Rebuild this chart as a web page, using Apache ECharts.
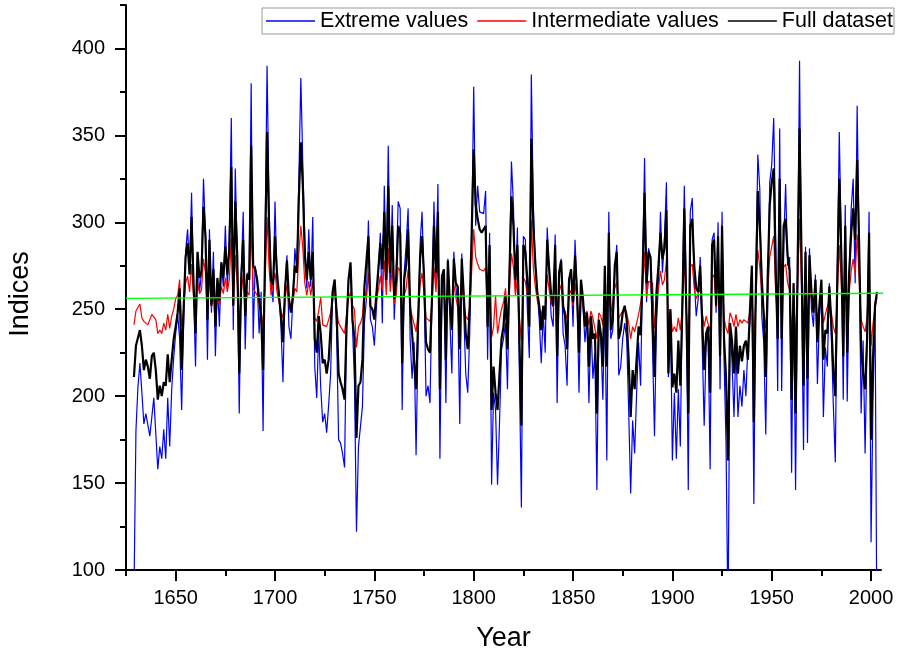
<!DOCTYPE html>
<html>
<head>
<meta charset="utf-8">
<style>
  html, body { margin: 0; padding: 0; background: #fff; }
  #chart { width: 901px; height: 656px; }
</style>
<script src="https://cdn.jsdelivr.net/npm/echarts@6.0.0/dist/echarts.min.js"></script>
</head>
<body>
<div id="chart"></div>
<script>
const startYear = 1629;

const extremeValues = [
  85,180,205,219,202,184,190,190,177,188,
  199,199,158,171,164,181,164,199,171,204,
  222,236,247,233,192,242,283,296,271,317,
  260,217,282,260,271,325,294,221,296,248,
  283,223,267,240,277,263,298,263,290,360,
  238,331,281,190,271,306,227,271,267,380,
  233,275,267,236,260,180,290,390,310,265,
  254,312,265,260,240,208,260,281,240,233,
  256,285,271,325,383,333,290,262,296,263,
  303,217,199,238,205,185,190,179,195,213,
  260,267,238,175,173,167,159,240,267,275,
  240,208,122,171,172,194,242,256,301,244,
  240,229,229,271,294,242,321,265,344,265,
  310,244,271,312,308,192,271,287,308,233,
  210,231,166,233,287,306,267,200,206,196,
  256,312,265,322,164,260,271,196,279,244,
  213,283,263,252,184,282,248,213,202,236,
  290,378,298,321,306,306,305,318,221,294,
  149,202,192,149,185,227,233,242,204,273,
  335,310,260,297,213,136,292,290,250,222,
  385,310,275,260,244,219,248,225,297,271,
  246,240,293,196,271,279,236,229,206,267,
  273,240,290,260,202,262,252,231,246,196,
  242,210,225,146,242,233,198,256,163,306,
  233,238,271,287,212,217,233,242,233,192,
  144,186,167,202,231,206,271,337,254,285,
  280,281,177,242,265,306,271,290,323,211,
  250,163,202,164,204,171,256,321,256,146,
  306,314,267,246,256,280,230,183,230,236,
  158,290,294,248,300,204,306,221,173,70,
  240,220,188,230,188,206,194,215,200,229,
  242,275,138,270,339,319,246,231,178,256,
  323,333,360,290,203,354,203,287,322,275,
  280,156,265,146,263,393,260,169,286,173,
  285,250,240,270,207,245,260,188,228,217,
  265,235,195,162,268,352,290,198,310,197,
  270,308,325,265,367,280,190,232,167,232,
  306,116,200,254,50
];

const intermediateValues = [
  241,249,249,253,245,243,244,241,241,247,
  246,244,236,238,236,242,238,247,239,246,
  250,256,258,267,240,250,265,269,260,276,
  257,246,266,259,261,279,271,248,270,251,
  261,247,259,252,263,259,268,260,267,291,
  251,281,265,240,259,270,249,260,258,297,
  262,261,258,253,249,240,265,303,274,258,
  257,271,260,254,249,245,255,264,253,249,
  254,262,260,282,298,285,265,258,266,258,
  266,245,243,249,257,241,242,240,244,248,
  255,262,250,242,240,238,236,247,256,260,
  252,250,228,240,242,246,262,256,271,251,
  250,248,248,261,269,261,278,258,285,260,
  274,253,258,274,272,241,258,262,273,251,
  246,246,237,248,264,271,259,245,244,243,
  253,274,260,278,237,259,261,242,264,252,
  247,264,257,256,244,264,254,246,244,251,
  272,296,280,276,273,272,272,274,247,268,
  234,240,258,236,244,250,254,262,246,262,
  282,274,258,268,245,232,268,266,258,247,
  301,274,263,255,251,247,251,248,270,261,
  254,251,268,242,260,264,251,249,244,258,
  261,252,265,255,243,258,253,247,249,241,
  249,245,246,233,248,246,241,262,241,272,
  247,248,262,266,245,247,249,251,248,242,
  233,240,237,242,247,246,260,283,257,266,
  265,265,239,255,262,272,264,267,278,240,
  250,237,240,237,245,238,250,279,250,233,
  274,276,262,256,255,262,248,240,246,247,
  237,268,270,251,271,242,274,245,239,236,
  248,245,240,247,240,244,242,244,245,242,
  249,262,232,255,284,274,258,249,239,260,
  280,286,292,260,245,287,245,274,276,265,
  261,236,257,233,261,302,265,238,266,239,
  265,255,249,258,245,251,258,242,247,246,
  256,248,240,236,258,287,266,242,274,243,
  260,272,279,270,293,268,244,240,237,245,
  272,229,242,251,257
];

const fullDataset = [
  211,229,229,238,229,215,221,217,210,223,
  225,215,198,206,200,208,206,224,208,221,
  233,240,248,262,215,250,280,288,270,303,
  265,236,283,268,272,309,292,244,290,252,
  273,240,268,255,277,268,286,270,285,332,
  252,312,280,213,268,290,246,270,267,344,
  275,273,267,256,246,215,281,352,298,267,
  264,292,271,258,246,231,260,278,256,248,
  258,275,271,314,346,321,281,267,283,267,
  283,233,225,246,236,219,221,213,221,240,
  260,267,248,213,208,204,198,240,267,277,
  244,233,176,206,208,221,263,262,292,252,
  250,244,244,273,288,273,306,267,321,271,
  298,256,267,298,294,219,267,275,296,252,
  236,235,204,242,279,292,269,231,227,225,
  256,298,271,306,204,269,273,221,278,254,
  238,279,265,263,227,279,258,236,227,252,
  294,342,310,302,296,294,294,298,240,287,
  192,217,202,192,213,233,240,258,227,271,
  315,298,267,287,233,183,287,283,267,240,
  348,298,277,260,252,238,252,244,290,273,
  258,252,287,223,271,278,252,246,227,267,
  273,254,281,260,225,267,256,240,248,217,
  246,233,236,190,244,236,217,275,217,294,
  238,244,275,283,233,238,248,252,244,221,
  188,215,204,221,240,235,270,317,265,283,
  280,281,211,260,275,294,279,285,307,213,
  250,205,213,202,232,206,250,308,250,190,
  298,302,275,262,260,275,244,215,236,240,
  202,287,290,252,292,223,298,233,211,163,
  242,232,213,240,213,229,220,229,232,221,
  248,275,185,260,318,298,267,246,211,270,
  310,323,331,271,233,325,233,298,302,281,
  272,198,265,190,272,354,281,206,283,210,
  281,260,248,267,231,252,267,221,238,236,
  263,242,215,200,267,325,283,223,298,225,
  271,294,308,290,336,287,227,213,204,233,
  294,175,223,252,260
];

const trendLine = [[1625, 256.2], [2008.5, 259.2]];

const xTickValues = [1625,1650,1675,1700,1725,1750,1775,1800,1825,1850,1875,1900,1925,1950,1975,2000];
const xLabelValues = [1650,1700,1750,1800,1850,1900,1950,2000];
const yTickValues = [100,125,150,175,200,225,250,275,300,325,350,375,400,425];
const yLabelValues = [100,150,200,250,300,350,400];

const seriesNames = ['Extreme values', 'Intermediate values', 'Full dataset'];

const toPairs = arr => arr.map((v, i) => [startYear + i, v]);

const FONT = "'Liberation Sans', Arial, Helvetica, sans-serif";

const chart = echarts.init(document.getElementById('chart'), null, { renderer: 'canvas' });

const baseAxisLine = { show: true, lineStyle: { color: '#000', width: 2 } };

chart.setOption({
  animation: false,
  backgroundColor: '#fff',
  grid: { left: 126, right: 20, top: 5, bottom: 86, containLabel: false, outerBoundsMode: 'none' },
  legend: {
    data: [
      { name: seriesNames[0], icon: 'rect', itemStyle: { color: '#0000ff' } },
      { name: seriesNames[1], icon: 'rect', itemStyle: { color: '#ff0000' } },
      { name: seriesNames[2], icon: 'rect', itemStyle: { color: '#000000' } }
    ],
    right: 7,
    top: 8,
    orient: 'horizontal',
    itemWidth: 49,
    itemHeight: 1.6,
    itemGap: 9,
    padding: [2, 1, 2, 4],
    borderColor: '#999',
    borderWidth: 1,
    backgroundColor: '#fff',
    textStyle: { fontSize: 21.5, color: '#000', fontFamily: FONT },
    selectedMode: false
  },
  xAxis: [
    {
      type: 'value', min: 1625, max: 2005, interval: 25,
      axisLine: baseAxisLine,
      axisTick: { show: true, length: 6, inside: false, lineStyle: { color: '#000', width: 2 }, customValues: xTickValues },
      axisLabel: {
        show: true, margin: 18, fontSize: 20, color: '#000', fontFamily: FONT,
        customValues: xLabelValues,
        formatter: v => (v % 50 === 0 ? String(v) : '')
      },
      splitLine: { show: false },
      name: 'Year', nameLocation: 'middle', nameGap: 55,
      nameTextStyle: { fontSize: 27, color: '#000', fontFamily: FONT }
    },
    {
      type: 'value', min: 1625, max: 2005, interval: 25, position: 'bottom',
      axisLine: { show: false },
      axisTick: { show: true, length: 11, lineStyle: { color: '#000', width: 2 }, customValues: xLabelValues },
      axisLabel: { show: false },
      splitLine: { show: false }
    }
  ],
  yAxis: [
    {
      type: 'value', min: 100, max: 425, interval: 25,
      axisLine: baseAxisLine,
      axisTick: { show: true, length: 6, lineStyle: { color: '#000', width: 2 }, customValues: yTickValues },
      axisLabel: {
        show: true, margin: 21, fontSize: 20, color: '#000', fontFamily: FONT,
        customValues: yLabelValues,
        formatter: v => (v % 50 === 0 && v <= 400 ? String(v) : '')
      },
      splitLine: { show: false }
    },
    {
      type: 'value', min: 100, max: 425, interval: 25, position: 'left',
      axisLine: { show: false },
      axisTick: { show: true, length: 11, lineStyle: { color: '#000', width: 2 }, customValues: yLabelValues },
      axisLabel: { show: false },
      splitLine: { show: false }
    }
  ],
  graphic: [
    {
      type: 'text',
      x: 21, y: 294,
      rotation: Math.PI / 2,
      style: {
        text: 'Indices', fontSize: 27, fontFamily: FONT, fill: '#000',
        align: 'center', verticalAlign: 'middle'
      }
    }
  ],
  series: [
    {
      name: seriesNames[0], type: 'line', data: toPairs(extremeValues),
      xAxisIndex: 0, yAxisIndex: 0,
      symbol: 'none', showSymbol: false, clip: true, z: 2,
      lineStyle: { color: '#0000ff', width: 1.2 }, itemStyle: { color: '#0000ff' }
    },
    {
      name: seriesNames[1], type: 'line', data: toPairs(intermediateValues),
      xAxisIndex: 0, yAxisIndex: 0,
      symbol: 'none', showSymbol: false, clip: true, z: 3,
      lineStyle: { color: '#ff0000', width: 1.2 }, itemStyle: { color: '#ff0000' }
    },
    {
      name: seriesNames[2], type: 'line', data: toPairs(fullDataset),
      xAxisIndex: 0, yAxisIndex: 0,
      symbol: 'none', showSymbol: false, clip: true, z: 4,
      lineStyle: { color: '#000000', width: 2.2 }, itemStyle: { color: '#000000' }
    },
    {
      name: 'Trend', type: 'line', data: trendLine,
      xAxisIndex: 0, yAxisIndex: 0,
      symbol: 'none', showSymbol: false, clip: false, z: 5, silent: true,
      lineStyle: { color: '#00ff00', width: 1.3 }, itemStyle: { color: '#00ff00' }
    }
  ]
});
</script>
</body>
</html>
